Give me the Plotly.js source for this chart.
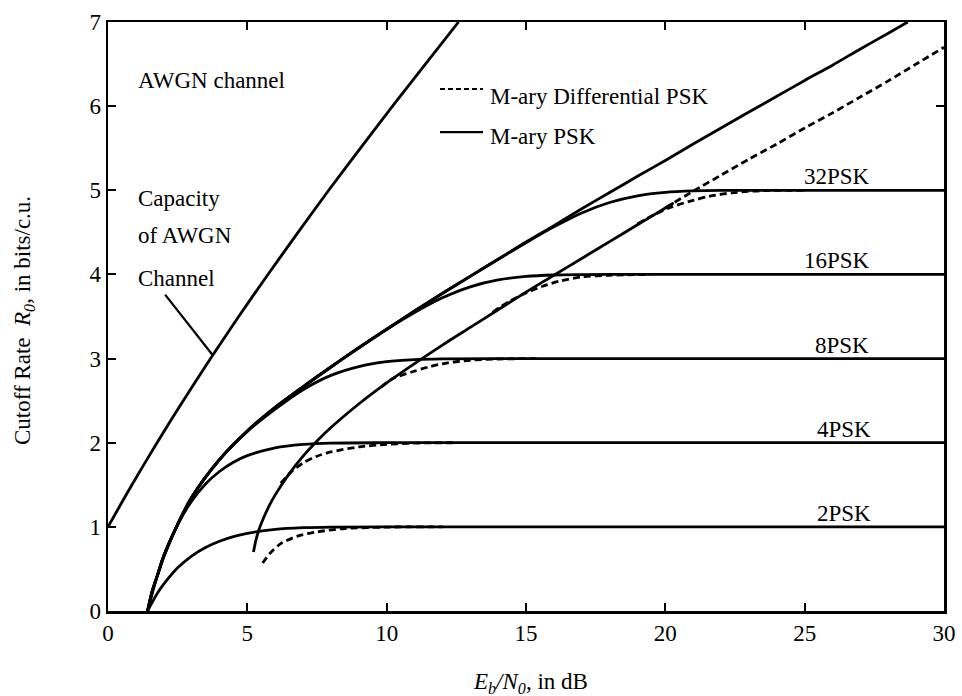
<!DOCTYPE html>
<html>
<head>
<meta charset="utf-8">
<script src="https://cdn.plot.ly/plotly-3.0.1.min.js"></script>
<style>html,body{margin:0;padding:0;background:#fff;}#chart{width:962px;height:696px;}</style>
</head>
<body>
<div id="chart"></div>
<script>
// ---- data (Eb/N0 in dB, cutoff rate in bits/c.u.) ----
const capacityX = [0, 0.86, 1.76, 2.70, 3.68, 4.69, 5.74, 6.82, 7.92, 9.06, 10.21, 11.39, 12.58];
const capacityY = [1, 1.5, 2, 2.5, 3, 3.5, 4, 4.5, 5, 5.5, 6, 6.5, 7];

const envPskX = [1.42, 1.6, 1.8, 2, 2.5, 3, 4, 5, 6, 7, 8, 9, 10, 11, 12, 13, 14, 15, 16, 17, 18, 19, 20, 21, 22, 23, 24, 25, 26, 27, 28, 28.7];
const envPskY = [0, 0.25, 0.45, 0.653, 1.03, 1.35, 1.80, 2.14, 2.42, 2.665, 2.90, 3.13, 3.35, 3.565, 3.776, 3.98, 4.18, 4.385, 4.58, 4.78, 4.973, 5.166, 5.355, 5.55, 5.74, 5.93, 6.117, 6.305, 6.487, 6.68, 6.867, 7.0];

const psk2X = [1.42, 1.6, 1.8, 2, 2.5, 3, 3.5, 4, 4.5, 5, 6, 7, 8, 10, 30];
const psk2Y = [0, 0.112, 0.225, 0.319, 0.513, 0.653, 0.755, 0.829, 0.884, 0.923, 0.97, 0.99, 0.997, 1.0, 1.0];
const psk4X = [1.42, 1.6, 1.8, 2, 2.5, 3, 3.5, 4, 4.5, 5, 6, 7, 8, 10, 30];
const psk4Y = [0, 0.224, 0.45, 0.638, 1.026, 1.306, 1.51, 1.658, 1.768, 1.846, 1.94, 1.98, 1.995, 2.0, 2.0];
const psk8X = [1.42, 1.6, 1.8, 2, 2.5, 3, 4, 5, 6, 7, 8, 9, 10, 11, 12, 14, 30];
const psk8Y = [0, 0.25, 0.45, 0.653, 1.03, 1.35, 1.80, 2.134, 2.40, 2.63, 2.80, 2.905, 2.963, 2.988, 2.997, 3.0, 3.0];
const psk16X = [1.42, 1.6, 1.8, 2, 2.5, 3, 4, 5, 6, 7, 8, 9, 10, 11, 12, 13, 14, 15, 16, 17, 18, 30];
const psk16Y = [0, 0.25, 0.45, 0.653, 1.03, 1.35, 1.80, 2.14, 2.42, 2.665, 2.90, 3.126, 3.346, 3.547, 3.722, 3.853, 3.934, 3.976, 3.993, 3.998, 4.0, 4.0];
const psk32X = [1.42, 1.6, 1.8, 2, 2.5, 3, 4, 5, 6, 7, 8, 9, 10, 11, 12, 13, 14, 15, 16, 17, 18, 19, 20, 21, 22, 24, 30];
const psk32Y = [0, 0.25, 0.45, 0.653, 1.03, 1.35, 1.80, 2.14, 2.42, 2.665, 2.90, 3.13, 3.35, 3.565, 3.773, 3.977, 4.18, 4.377, 4.565, 4.731, 4.855, 4.935, 4.976, 4.993, 4.999, 5.0, 5.0];

// lower (differential) envelope: solid part, then dashed continuation
const envDiffSolidX = [5.22, 5.3, 5.4, 5.6, 5.8, 6.0, 6.5, 7.0, 7.5, 8.0, 9, 10, 11, 12, 13, 14, 15, 16, 17, 18, 19, 20, 20.3];
const envDiffSolidY = [0.70, 0.83, 0.95, 1.12, 1.26, 1.38, 1.63, 1.84, 2.02, 2.18, 2.46, 2.71, 2.94, 3.16, 3.37, 3.58, 3.79, 3.99, 4.19, 4.39, 4.59, 4.79, 4.85];
const envDiffDashX = [20, 21, 22, 23, 24, 25, 26, 27, 28, 29, 30];
const envDiffDashY = [4.79, 4.99, 5.18, 5.37, 5.55, 5.74, 5.92, 6.11, 6.30, 6.50, 6.70];

const dpsk2X = [5.55, 5.8, 6.2, 6.8, 7.5, 8.5, 10, 12];
const dpsk2Y = [0.57, 0.68, 0.80, 0.89, 0.94, 0.98, 0.997, 1.0];
const dpsk4X = [6.2, 6.6, 7, 7.5, 8, 9, 10, 11, 12.5];
const dpsk4Y = [1.52, 1.66, 1.76, 1.84, 1.89, 1.95, 1.98, 1.995, 2.0];
const dpsk8X = [9.8, 10.2, 10.9, 11.5, 12.2, 13, 14, 15.5];
const dpsk8Y = [2.66, 2.76, 2.84, 2.90, 2.95, 2.98, 2.995, 3.0];
const dpsk16X = [13.8, 14.4, 15, 15.6, 16.2, 17, 18, 19.5];
const dpsk16Y = [3.55, 3.68, 3.78, 3.86, 3.92, 3.97, 3.99, 4.0];
const dpsk32X = [19, 19.6, 20.2, 21, 21.6, 22.4, 23.4, 25];
const dpsk32Y = [4.6, 4.71, 4.8, 4.88, 4.93, 4.97, 4.995, 5.0];

// leader line from the "Channel" label to the capacity curve
const pointerX = [2.05, 3.76];
const pointerY = [3.76, 3.04];

// curve labels
const pskLabels = ['32PSK', '16PSK', '8PSK', '4PSK', '2PSK'];
const pskLabelX = [24.94, 24.94, 25.35, 25.4, 25.4];
const pskLabelY = [5, 4, 3, 2, 1];

const xTicks = [0, 5, 10, 15, 20, 25, 30];
const yTicks = [0, 1, 2, 3, 4, 5, 6, 7];

// ---- drawing ----
const FAMILY = 'Liberation Serif';
const FS = 23;
function fnt(size) { return {family: FAMILY, size: size || FS, color: '#000000'}; }
function solid() { return {color: '#000', width: 2.8, shape: 'spline', smoothing: 0.8}; }
function dashed() { return {color: '#000', width: 2.8, shape: 'spline', smoothing: 0.8, dash: '7px,4px'}; }
function tr(x, y, line) { return {type: 'scatter', x: x, y: y, mode: 'lines', line: line, hoverinfo: 'skip', showlegend: false}; }

const traces = [
  tr(capacityX, capacityY, solid()),
  tr(envPskX, envPskY, solid()),
  tr(psk2X, psk2Y, solid()),
  tr(psk4X, psk4Y, solid()),
  tr(psk8X, psk8Y, solid()),
  tr(psk16X, psk16Y, solid()),
  tr(psk32X, psk32Y, solid()),
  tr(envDiffSolidX, envDiffSolidY, solid()),
  tr(envDiffDashX, envDiffDashY, dashed()),
  tr(dpsk2X, dpsk2Y, dashed()),
  tr(dpsk4X, dpsk4Y, dashed()),
  tr(dpsk8X, dpsk8Y, dashed()),
  tr(dpsk16X, dpsk16Y, dashed()),
  tr(dpsk32X, dpsk32Y, dashed()),
  tr(pointerX, pointerY, {color: '#000', width: 2.2})
];

function ann(o) { return Object.assign({showarrow: false, font: fnt()}, o); }
const annotations = [
  ann({xref: 'x', yref: 'y', x: 1.0, y: 6.30, xanchor: 'left', yanchor: 'middle', text: 'AWGN channel'}),
  ann({xref: 'x', yref: 'y', x: 1.0, y: 4.90, xanchor: 'left', yanchor: 'middle', text: 'Capacity'}),
  ann({xref: 'x', yref: 'y', x: 1.0, y: 4.46, xanchor: 'left', yanchor: 'middle', text: 'of AWGN'}),
  ann({xref: 'x', yref: 'y', x: 1.0, y: 3.95, xanchor: 'left', yanchor: 'middle', text: 'Channel'}),
  ann({xref: 'paper', yref: 'paper', x: 0.4545, y: 0.874, xanchor: 'left', yanchor: 'middle', text: 'M-ary Differential PSK'}),
  ann({xref: 'paper', yref: 'paper', x: 0.4545, y: 0.8048, xanchor: 'left', yanchor: 'middle', text: 'M-ary PSK'}),
  ann({xref: 'paper', yref: 'paper', x: -0.1005, y: 0.494, xanchor: 'center', yanchor: 'middle', textangle: -90,
       text: 'Cutoff Rate\u00a0\u00a0<i>R</i><sub><i>0</i></sub>, in bits/c.u.'}),
  ann({xref: 'paper', yref: 'paper', x: 0.505, y: -0.122, xanchor: 'center', yanchor: 'middle',
       text: '<i>E</i><sub><i>b</i></sub><i>/N</i><sub><i>0</i></sub>, in dB'})
];
for (let i = 0; i < pskLabels.length; i++) {
  annotations.push(ann({xref: 'x', yref: 'y', x: pskLabelX[i], y: pskLabelY[i], xanchor: 'left', yanchor: 'bottom',
    text: pskLabels[i], borderpad: 0}));
}

const shapes = [
  {type: 'line', xref: 'paper', yref: 'paper', x0: 0.3971, x1: 0.4486, y0: 0.8862, y1: 0.8862, line: {color: '#000', width: 2, dash: '5px,3px'}},
  {type: 'line', xref: 'paper', yref: 'paper', x0: 0.3971, x1: 0.4486, y0: 0.8132, y1: 0.8132, line: {color: '#000', width: 2.2}}
];

function axis(range, vals) {
  return {
    range: range, tickmode: 'array', tickvals: vals, ticktext: vals.map(String),
    showgrid: false, zeroline: false, showline: true, linecolor: '#000', linewidth: 2.5, mirror: 'ticks',
    ticks: 'inside', ticklen: 8, tickwidth: 2, tickcolor: '#000', tickfont: fnt(), fixedrange: true
  };
}

const layout = {
  width: 962, height: 696,
  margin: {l: 108, r: 18, t: 22, b: 85, pad: 0},
  paper_bgcolor: '#fff', plot_bgcolor: '#fff',
  showlegend: false,
  font: fnt(),
  xaxis: axis([0, 30], xTicks),
  yaxis: axis([0, 7], yTicks),
  annotations: annotations,
  shapes: shapes
};

Plotly.newPlot('chart', traces, layout, {staticPlot: true, displayModeBar: false});
</script>
</body>
</html>
